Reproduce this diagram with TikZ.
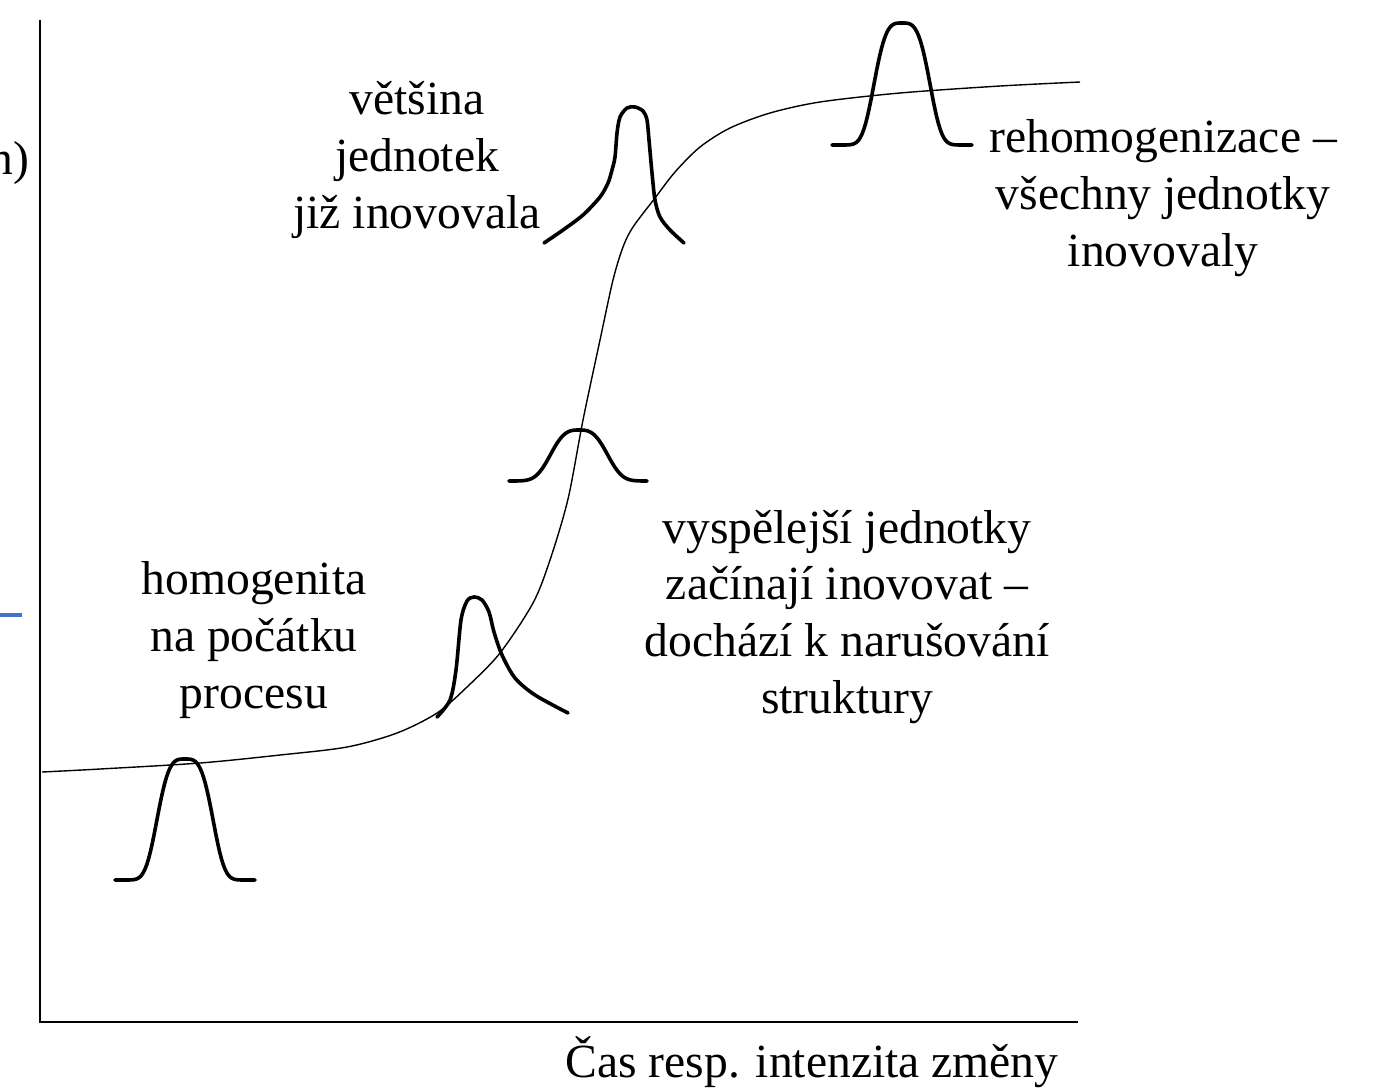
\documentclass[tikz,border=0pt]{standalone}
\usepackage{fontspec}
\setmainfont{Liberation Serif}
\usepackage{tikz}
\definecolor{dashblue}{RGB}{68,114,196}
\tikzset{
  axis/.style={line width=1pt},
  scurve/.style={line width=0.7pt},
  bell/.style={line width=1.8pt, line cap=round},
  lbl/.style={align=center, anchor=base, inner sep=0pt, font=\fontsize{23.8}{28.3}\selectfont},
}

\begin{document}
\begin{tikzpicture}[x=0.5pt,y=-0.5pt]
  \useasboundingbox (0,0) rectangle (1385,1089);
  \coordinate (top) at (40,20);
  \coordinate (orig) at (40,1022);
  \coordinate (right) at (1078,1022);
  \draw[axis] (top) -- (orig) -- (right);
  \coordinate (m1) at (0,615);
  \coordinate (m2) at (22,615);
  \draw[line width=2pt, dashblue] (m1) -- (m2);
  \draw[scurve] plot[smooth] coordinates {(42,772) (100,769) (200,763) (280,755) (347,747) (397,733)
    (437,713) (467,687) (500,653) (533,603) (550,560) (568,499) (583,420) (600,340) (613,280)
    (623,247) (633,227) (655,198) (675,172) (700,147) (730,128) (770,113) (820,102) (900,93)
    (1000,86) (1080,82)};
  \foreach \px/\py/\pk in {185/880/121, 902/145/122}
    \draw[bell] plot[domain=-70:70, samples=80]
      ({\px+\x}, {\py-\pk*exp(-(\x/31.1)*(\x/31.1)*abs(\x/31.1)*sqrt(abs(\x/31.1)))});
  \draw[bell] plot[domain=-70:68, samples=80]
    ({579+\x}, {481-51*exp(-(\x/32.8)*(\x/32.8)*abs(\x/32.8))});
  \draw[bell] plot[smooth] coordinates {(437,717) (450,700) (456,670) (461,620) (467,601) (474,597)
    (482,600) (489,612) (494,632) (502,655) (515,678) (535,695) (568,713)};
  \draw[bell] plot[smooth] coordinates {(544,243) (563,230) (583,215) (600,197) (608,183) (612,170)
    (615,157) (617,133) (620,117) (627,108) (635,107) (643,111) (647,120) (649,140) (652,173)
    (655,200) (660,217) (670,230) (684,243)};
  \node[lbl, anchor=base east] (ylab) at (30,174) {n)};
  \node[lbl] (vetsina) at (417,228) {většina\\jednotek\\již inovovala};
  \node[lbl] (rehomog) at (1163,266) {rehomogenizace –\\všechny jednotky\\inovovaly};
  \node[lbl] (homog) at (254,708) {homogenita\\na počátku\\procesu};
  \node[lbl] (vyspel) at (847,713) {vyspělejší jednotky\\začínají inovovat –\\dochází k narušování\\struktury};
  \node[lbl] (cas) at (812,1077) {Čas resp. intenzita změny};
\end{tikzpicture}
\end{document}
